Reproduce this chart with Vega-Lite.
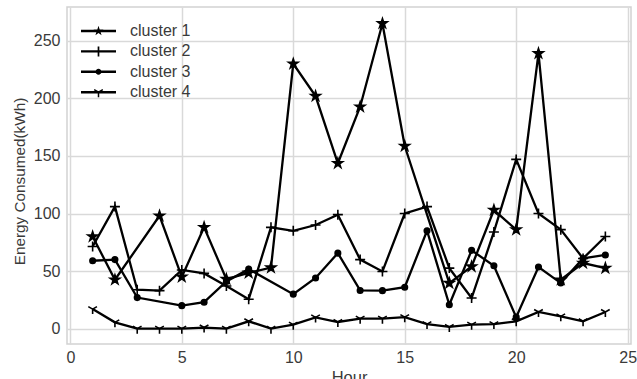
{
  "$schema": "https://vega.github.io/schema/vega-lite/v6.json",
  "width": 564,
  "height": 337,
  "autosize": {"type": "none"},
  "padding": {"left": 67, "top": 7, "right": 6, "bottom": 35},
  "background": "white",
  "config": {
    "view": {"stroke": "#d2d2d2", "strokeWidth": 1.5},
    "font": "Liberation Sans",
    "axis": {
      "grid": true,
      "gridColor": "#d9d9d9",
      "gridWidth": 1.5,
      "ticks": false,
      "domain": false,
      "labelFont": "Liberation Sans",
      "labelFontSize": 16,
      "labelColor": "#3a3a3a",
      "titleFont": "Liberation Sans",
      "titleFontSize": 16.5,
      "titleFontWeight": "normal",
      "titleColor": "#3a3a3a"
    }
  },
  "data": {
    "values": [
      {"hour": 1, "cluster": "cluster 1", "energy": 80},
      {"hour": 2, "cluster": "cluster 1", "energy": 42.5},
      {"hour": 4, "cluster": "cluster 1", "energy": 98},
      {"hour": 5, "cluster": "cluster 1", "energy": 45},
      {"hour": 6, "cluster": "cluster 1", "energy": 88},
      {"hour": 7, "cluster": "cluster 1", "energy": 43},
      {"hour": 8, "cluster": "cluster 1", "energy": 48.5},
      {"hour": 9, "cluster": "cluster 1", "energy": 53},
      {"hour": 10, "cluster": "cluster 1", "energy": 230},
      {"hour": 11, "cluster": "cluster 1", "energy": 202},
      {"hour": 12, "cluster": "cluster 1", "energy": 143.6},
      {"hour": 13, "cluster": "cluster 1", "energy": 192.7},
      {"hour": 14, "cluster": "cluster 1", "energy": 265},
      {"hour": 15, "cluster": "cluster 1", "energy": 158.6},
      {"hour": 17, "cluster": "cluster 1", "energy": 39.6},
      {"hour": 18, "cluster": "cluster 1", "energy": 54},
      {"hour": 19, "cluster": "cluster 1", "energy": 103},
      {"hour": 20, "cluster": "cluster 1", "energy": 86},
      {"hour": 21, "cluster": "cluster 1", "energy": 239},
      {"hour": 22, "cluster": "cluster 1", "energy": 42.5},
      {"hour": 23, "cluster": "cluster 1", "energy": 57},
      {"hour": 24, "cluster": "cluster 1", "energy": 52.6},
      {"hour": 1, "cluster": "cluster 2", "energy": 71.3},
      {"hour": 2, "cluster": "cluster 2", "energy": 106},
      {"hour": 3, "cluster": "cluster 2", "energy": 33.8},
      {"hour": 4, "cluster": "cluster 2", "energy": 33},
      {"hour": 5, "cluster": "cluster 2", "energy": 51},
      {"hour": 6, "cluster": "cluster 2", "energy": 48},
      {"hour": 7, "cluster": "cluster 2", "energy": 37},
      {"hour": 8, "cluster": "cluster 2", "energy": 25.6},
      {"hour": 9, "cluster": "cluster 2", "energy": 88},
      {"hour": 10, "cluster": "cluster 2", "energy": 85},
      {"hour": 11, "cluster": "cluster 2", "energy": 90},
      {"hour": 12, "cluster": "cluster 2", "energy": 99},
      {"hour": 13, "cluster": "cluster 2", "energy": 60},
      {"hour": 14, "cluster": "cluster 2", "energy": 49.7},
      {"hour": 15, "cluster": "cluster 2", "energy": 100},
      {"hour": 16, "cluster": "cluster 2", "energy": 106},
      {"hour": 17, "cluster": "cluster 2", "energy": 52.6},
      {"hour": 18, "cluster": "cluster 2", "energy": 26.6},
      {"hour": 19, "cluster": "cluster 2", "energy": 84},
      {"hour": 20, "cluster": "cluster 2", "energy": 147},
      {"hour": 21, "cluster": "cluster 2", "energy": 100},
      {"hour": 22, "cluster": "cluster 2", "energy": 86},
      {"hour": 23, "cluster": "cluster 2", "energy": 61},
      {"hour": 24, "cluster": "cluster 2", "energy": 80},
      {"hour": 1, "cluster": "cluster 3", "energy": 59},
      {"hour": 2, "cluster": "cluster 3", "energy": 60},
      {"hour": 3, "cluster": "cluster 3", "energy": 27},
      {"hour": 5, "cluster": "cluster 3", "energy": 20},
      {"hour": 6, "cluster": "cluster 3", "energy": 23},
      {"hour": 7, "cluster": "cluster 3", "energy": 41},
      {"hour": 8, "cluster": "cluster 3", "energy": 51.7},
      {"hour": 10, "cluster": "cluster 3", "energy": 30},
      {"hour": 11, "cluster": "cluster 3", "energy": 44},
      {"hour": 12, "cluster": "cluster 3", "energy": 65.6},
      {"hour": 13, "cluster": "cluster 3", "energy": 33.2},
      {"hour": 14, "cluster": "cluster 3", "energy": 33},
      {"hour": 15, "cluster": "cluster 3", "energy": 36},
      {"hour": 16, "cluster": "cluster 3", "energy": 85},
      {"hour": 17, "cluster": "cluster 3", "energy": 20.8},
      {"hour": 18, "cluster": "cluster 3", "energy": 68},
      {"hour": 19, "cluster": "cluster 3", "energy": 54.6},
      {"hour": 20, "cluster": "cluster 3", "energy": 10},
      {"hour": 21, "cluster": "cluster 3", "energy": 53.5},
      {"hour": 22, "cluster": "cluster 3", "energy": 39.6},
      {"hour": 23, "cluster": "cluster 3", "energy": 61},
      {"hour": 24, "cluster": "cluster 3", "energy": 64},
      {"hour": 1, "cluster": "cluster 4", "energy": 17},
      {"hour": 2, "cluster": "cluster 4", "energy": 5.5},
      {"hour": 3, "cluster": "cluster 4", "energy": 0},
      {"hour": 4, "cluster": "cluster 4", "energy": 0},
      {"hour": 5, "cluster": "cluster 4", "energy": 0},
      {"hour": 6, "cluster": "cluster 4", "energy": 1},
      {"hour": 7, "cluster": "cluster 4", "energy": 0},
      {"hour": 8, "cluster": "cluster 4", "energy": 6.4},
      {"hour": 9, "cluster": "cluster 4", "energy": 0},
      {"hour": 10, "cluster": "cluster 4", "energy": 3.5},
      {"hour": 11, "cluster": "cluster 4", "energy": 9.8},
      {"hour": 12, "cluster": "cluster 4", "energy": 5.8},
      {"hour": 13, "cluster": "cluster 4", "energy": 8.7},
      {"hour": 14, "cluster": "cluster 4", "energy": 8.7},
      {"hour": 15, "cluster": "cluster 4", "energy": 10},
      {"hour": 16, "cluster": "cluster 4", "energy": 4},
      {"hour": 17, "cluster": "cluster 4", "energy": 1.5},
      {"hour": 18, "cluster": "cluster 4", "energy": 3.5},
      {"hour": 19, "cluster": "cluster 4", "energy": 4},
      {"hour": 20, "cluster": "cluster 4", "energy": 6.4},
      {"hour": 21, "cluster": "cluster 4", "energy": 14.5},
      {"hour": 22, "cluster": "cluster 4", "energy": 10.7},
      {"hour": 23, "cluster": "cluster 4", "energy": 6.4},
      {"hour": 24, "cluster": "cluster 4", "energy": 14.5}
    ]
  },
  "encoding": {
    "x": {
      "field": "hour",
      "type": "quantitative",
      "scale": {"domain": [-0.15, 25.15], "nice": false, "zero": false},
      "axis": {
        "values": [0, 5, 10, 15, 20, 25],
        "title": "Hour",
        "labelPadding": 5,
        "titleBaseline": "top",
        "titleY": 25
      }
    },
    "y": {
      "field": "energy",
      "type": "quantitative",
      "scale": {"domain": [-13.3, 279.3], "nice": false, "zero": false},
      "axis": {
        "values": [0, 50, 100, 150, 200, 250],
        "title": "Energy Consumed(kWh)",
        "titleFontSize": 15.3,
        "labelPadding": 7,
        "titleAngle": -90,
        "titleX": -48,
        "titleY": 174,
        "titleAlign": "center",
        "titleBaseline": "middle"
      }
    }
  },
  "layer": [
    {
      "mark": {"type": "line", "color": "black", "strokeWidth": 2.3},
      "encoding": {"detail": {"field": "cluster"}}
    },
    {
      "mark": {"type": "point", "filled": true, "color": "black", "stroke": "black", "strokeWidth": 1.6, "opacity": 1, "size": 100},
      "encoding": {
        "shape": {
          "field": "cluster",
          "type": "nominal",
          "legend": null,
          "scale": {
            "domain": ["cluster 1", "cluster 2", "cluster 3", "cluster 4"],
            "range": [
              "M0,-1L0.2245,-0.309L0.9511,-0.309L0.3633,0.118L0.5878,0.809L0,0.382L-0.5878,0.809L-0.3633,0.118L-0.9511,-0.309L-0.2245,-0.309Z",
              "M-1,0H1M0,-1V1",
              "M-0.55,0A0.55,0.55,0,1,0,0.55,0A0.55,0.55,0,1,0,-0.55,0Z",
              "M0,0V1M0,0L-0.866,-0.5M0,0L0.866,-0.5"
            ]
          }
        }
      }
    },
    {
      "mark": {"type": "point", "filled": true, "color": "black", "opacity": 0},
      "encoding": {
        "shape": {
          "field": "cluster",
          "type": "nominal",
          "scale": {
            "domain": ["cluster 1", "cluster 2", "cluster 3", "cluster 4"],
            "range": [
              "M-3.5,-0.24H3.5V0.24H-3.5ZM0,-1.05L0.2357,-0.3245L0.9987,-0.3245L0.3815,0.1239L0.6172,0.8495L0,0.4011L-0.6172,0.8495L-0.3815,0.1239L-0.9987,-0.3245L-0.2357,-0.3245Z",
              "M-3.5,-0.24H3.5V0.24H-3.5ZM-0.17,-1H0.17V1H-0.17Z",
              "M-3.5,-0.24H3.5V0.24H-3.5ZM-0.6,0A0.6,0.6,0,1,1,0.6,0A0.6,0.6,0,1,1,-0.6,0Z",
              "M-3.5,-0.24H3.5V0.24H-3.5ZM-0.15,0H0.15V1H-0.15ZM-0.075,0.13L-0.941,-0.37L-0.791,-0.63L0.075,-0.13ZM-0.075,-0.13L0.791,-0.63L0.941,-0.37L0.075,0.13Z"
            ]
          },
          "legend": {
            "title": null,
            "orient": "none",
            "legendX": 23.5,
            "legendY": 16,
            "padding": 0,
            "rowPadding": 4.4,
            "labelOffset": 23.5,
            "labelFont": "Liberation Sans",
            "labelFontSize": 16,
            "labelColor": "#3a3a3a",
            "symbolSize": 100,
            "symbolOpacity": 1,
            "symbolFillColor": "black",
            "symbolStrokeColor": "black",
            "symbolStrokeWidth": 0
          }
        }
      }
    }
  ],
  "resolve": {"scale": {"shape": "independent"}}
}
